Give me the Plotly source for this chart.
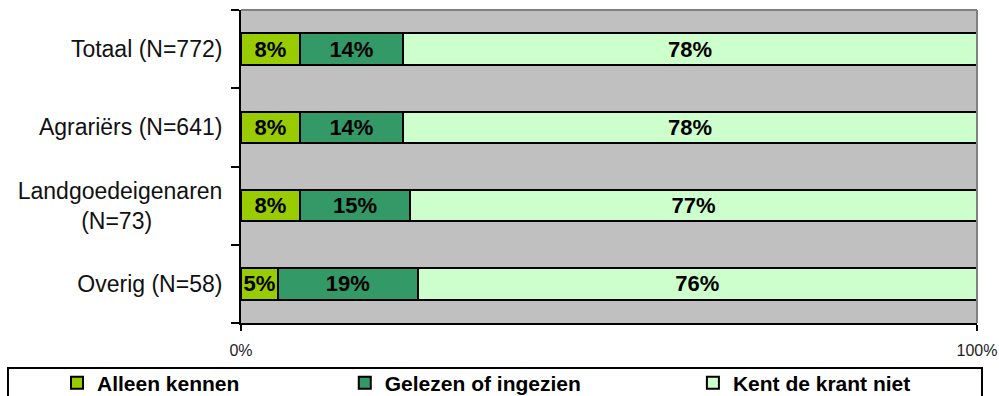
import plotly.graph_objects as go

# Survey groups (top to bottom) and share of respondents per answer, in percent
groups = ["Totaal (N=772)", "Agrariërs (N=641)", "Landgoedeigenaren (N=73)", "Overig (N=58)"]
group_labels = ["Totaal (N=772)", "Agrariërs (N=641)",
                "Landgoedeigenaren<br>(N=73)" + "\u00a0" * 11, "Overig (N=58)"]
series_names = ["Alleen kennen", "Gelezen of ingezien", "Kent de krant niet"]
alleen_kennen = [8, 8, 8, 5]
gelezen_of_ingezien = [14, 14, 15, 19]
kent_de_krant_niet = [78, 78, 77, 76]
x_tick_values = [0, 100]
x_tick_labels = ["0%", "100%"]

series_values = [alleen_kennen, gelezen_of_ingezien, kent_de_krant_niet]
colors = ["#99CC00", "#339966", "#CCFFCC"]
legend_ids = ["legend", "legend2", "legend3"]
legend_x = [-0.250, 0.141, 0.614]

FONT = "Liberation Sans, Arial, sans-serif"

fig = go.Figure()
for name, vals, color, lid in zip(series_names, series_values, colors, legend_ids):
    fig.add_trace(go.Bar(
        y=groups, x=vals, name=name, orientation="h",
        marker=dict(color=color, line=dict(color="black", width=2)),
        text=[f"{v}%" for v in vals], textposition="inside",
        insidetextanchor="middle", constraintext="none",
        textfont=dict(family=FONT, size=22, color="black", weight="bold"),
        legend=lid, hoverinfo="skip",
    ))

fig.update_layout(
    width=999, height=396,
    margin=dict(l=241, r=22, t=10, b=73, autoexpand=False),
    barmode="stack", bargap=0.6, showlegend=True,
    paper_bgcolor="white", plot_bgcolor="#C0C0C0",
    font=dict(family=FONT, color="black"),
    uniformtext=dict(minsize=22, mode="show"),
    xaxis=dict(range=[0, 100], tickvals=x_tick_values, ticktext=x_tick_labels,
               showgrid=False, zeroline=False, showline=True, linecolor="black",
               linewidth=2, ticks="outside", ticklen=6, tickwidth=2, tickcolor="black",
               tickfont=dict(size=16, color="#222"), ticklabelstandoff=6),
    yaxis=dict(categoryorder="array", categoryarray=groups, autorange="reversed",
               tickvals=groups, ticktext=group_labels,
               showgrid=False, zeroline=False, showline=True, linecolor="black",
               linewidth=2, ticks="outside", ticklen=8, tickwidth=2, tickcolor="black",
               tickson="boundaries", tickfont=dict(size=23, color="#111"),
               ticklabelstandoff=12),
)

# One legend per series so the entries spread across the framed legend bar
for lid, lx in zip(legend_ids, legend_x):
    fig.update_layout(**{lid: dict(
        x=lx, xanchor="left", y=-0.192, yanchor="middle", orientation="h",
        bgcolor="rgba(0,0,0,0)", borderwidth=0, visible=True,
        font=dict(family=FONT, size=21, color="black", weight="bold"),
    )})

# Plot-area frame (top and right) and the legend box
fig.add_shape(type="line", xref="paper", yref="paper", x0=0, x1=1, y0=1, y1=1,
              line=dict(color="#808080", width=2))
fig.add_shape(type="line", xref="paper", yref="paper", x0=1, x1=1, y0=0, y1=1,
              line=dict(color="#808080", width=2))
fig.add_shape(type="rect", xref="paper", yref="paper",
              x0=-0.3166, x1=1.0068, y0=-0.1438, y1=-0.26,
              line=dict(color="black", width=2), fillcolor="rgba(0,0,0,0)")

fig.write_html("out.html")
